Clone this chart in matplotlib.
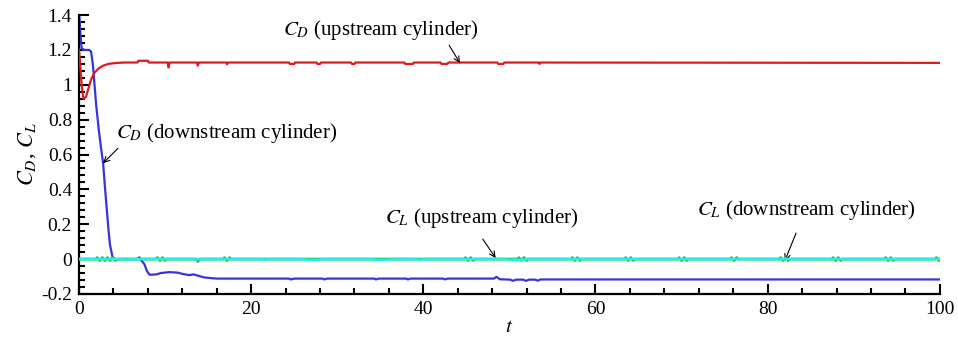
import matplotlib.pyplot as plt
from matplotlib.ticker import MultipleLocator, FuncFormatter

plt.rcParams['font.family'] = ['Liberation Serif', 'DejaVu Serif']
plt.rcParams['mathtext.fontset'] = 'stix'
plt.rcParams['axes.unicode_minus'] = False

# Drag coefficient, upstream cylinder (t, C_D)
cd_up = [(0, 1.20), (0.3, 1.00), (0.5, 0.92), (0.8, 0.93), (1.1, 0.98), (1.4, 1.03),
         (1.8, 1.07), (2.3, 1.095), (2.8, 1.11), (3.4, 1.12), (4.2, 1.125), (5.2, 1.128),
         (6.8, 1.128), (6.9, 1.138), (8.0, 1.138), (8.1, 1.128),
         (10.3, 1.128), (10.4, 1.10), (10.5, 1.128), (13.7, 1.128), (13.8, 1.11), (13.9, 1.128),
         (17.1, 1.128), (17.2, 1.118), (17.3, 1.128), (24.4, 1.128), (24.5, 1.12), (25.0, 1.12),
         (25.1, 1.128), (27.6, 1.128), (27.7, 1.12), (28.0, 1.12), (28.1, 1.128),
         (31.6, 1.128), (31.7, 1.12), (32.0, 1.12), (32.1, 1.128),
         (37.8, 1.128), (37.9, 1.12), (38.8, 1.12), (38.9, 1.128), (42.0, 1.128), (42.1, 1.12),
         (42.8, 1.12), (42.9, 1.128), (48.6, 1.128), (48.7, 1.12), (49.3, 1.12), (49.4, 1.128),
         (53.4, 1.128), (53.5, 1.12), (53.6, 1.128), (100, 1.126)]

# Drag coefficient, downstream cylinder
cd_down = [(0, 1.42), (0.15, 1.30), (0.3, 1.21), (0.6, 1.20), (1.2, 1.20), (1.4, 1.19),
           (1.6, 1.12), (1.8, 1.00), (2.0, 0.88), (2.3, 0.74), (2.6, 0.62), (2.8, 0.55),
           (3.0, 0.42), (3.2, 0.30), (3.4, 0.18), (3.6, 0.08), (3.9, 0.01), (4.2, 0.0),
           (6.8, 0.0), (7.0, 0.01), (7.2, -0.005), (7.6, -0.03), (7.9, -0.07), (8.2, -0.09),
           (9.0, -0.088), (9.5, -0.08), (10.5, -0.075), (11.5, -0.078), (12.0, -0.085),
           (12.8, -0.092), (13.3, -0.088), (13.8, -0.095), (14.5, -0.105), (15.5, -0.11),
           (16.0, -0.112), (24.4, -0.112), (24.6, -0.117), (25.0, -0.112), (28.3, -0.112),
           (28.5, -0.117), (28.8, -0.112), (34.3, -0.112), (34.5, -0.117), (34.8, -0.112),
           (38.0, -0.112), (38.2, -0.117), (38.5, -0.112), (42.3, -0.112), (42.5, -0.117),
           (42.8, -0.112), (48.2, -0.112), (48.5, -0.102), (48.9, -0.116), (50.1, -0.118),
           (50.4, -0.125), (50.8, -0.118), (51.6, -0.118), (51.9, -0.125), (52.3, -0.118),
           (53.0, -0.118), (53.3, -0.124), (53.6, -0.117), (100, -0.117)]

# Lift coefficient, upstream cylinder
cl_up = [(0, 0.0), (5.2, 0.0), (5.5, -0.004), (6.0, 0.0), (13.4, 0.0), (13.6, -0.004),
         (14.0, 0.0), (21.3, 0.0), (21.6, -0.004), (21.9, 0.0), (26.0, 0.0), (26.5, -0.004),
         (27.8, -0.004), (28.2, 0.0), (34.0, 0.0), (34.5, -0.004), (35.8, -0.004), (36.2, 0.0),
         (39.0, 0.0), (39.5, -0.004), (40.2, 0.0), (49.5, 0.0), (50.0, -0.004), (51.5, -0.004),
         (52.0, 0.0), (100, 0.0)]

# Lift coefficient, downstream cylinder (short bursts around zero)
cl_down = [(0, 0.0), (2.0, 0.0), (2.1, 0.008), (2.4, -0.008), (2.7, 0.008), (3.0, -0.008),
           (3.3, 0.008), (3.6, -0.008), (3.9, 0.008), (4.2, -0.008), (4.5, 0.0),
           (9.0, 0.0), (9.1, 0.008), (9.4, -0.008), (9.7, 0.008), (10.0, -0.008), (10.1, 0.0),
           (13.6, 0.0), (13.8, -0.014), (14.0, 0.0),
           (16.8, 0.0), (16.9, 0.008), (17.2, -0.008), (17.5, 0.008), (17.6, 0.0),
           (44.8, 0.0), (44.9, 0.008), (45.2, -0.008), (45.5, 0.008), (45.8, -0.008), (45.9, 0.0),
           (51.0, 0.0), (51.1, 0.008), (51.4, -0.008), (51.7, 0.008), (52.0, -0.008), (52.1, 0.0),
           (57.2, 0.0), (57.3, 0.008), (57.6, -0.008), (57.9, 0.008), (58.2, -0.008), (58.3, 0.0),
           (63.4, 0.0), (63.5, 0.008), (63.8, -0.008), (64.1, 0.008), (64.4, -0.008), (64.5, 0.0),
           (69.6, 0.0), (69.7, 0.008), (70.0, -0.008), (70.3, 0.008), (70.6, -0.008), (70.7, 0.0),
           (75.7, 0.0), (75.8, 0.008), (76.1, -0.008), (76.4, 0.008), (76.5, 0.0),
           (81.4, 0.0), (81.5, 0.008), (81.8, -0.008), (82.1, 0.008), (82.4, -0.008), (82.5, 0.0),
           (87.5, 0.0), (87.6, 0.008), (87.9, -0.008), (88.2, 0.008), (88.5, -0.008), (88.6, 0.0),
           (93.6, 0.0), (93.7, 0.008), (94.0, -0.008), (94.3, 0.008), (94.6, -0.008), (94.7, 0.0),
           (99.5, 0.0), (99.6, 0.008), (99.9, -0.008), (100, 0.0)]

fig = plt.figure(figsize=(9.58, 3.52), dpi=100)
ax = fig.add_axes([0.0825, 0.165, 0.8985, 0.792])

ax.plot(*zip(*cd_up), color='#e01820', lw=1.6, zorder=3)
ax.plot(*zip(*cd_down), color='#3535dc', lw=1.6, zorder=2)
ax.plot(*zip(*cl_down), color='#22c022', lw=2.0, zorder=4)
ax.plot(*zip(*cl_up), color='#22ecf4', lw=1.8, zorder=5)

ax.set_xlim(0, 100)
ax.set_ylim(-0.2, 1.4)
ax.xaxis.set_major_locator(MultipleLocator(20))
ax.xaxis.set_minor_locator(MultipleLocator(4))
ax.yaxis.set_major_locator(MultipleLocator(0.2))
ax.yaxis.set_minor_locator(MultipleLocator(0.04))
fmt = FuncFormatter(lambda v, pos: f'{v:g}' if abs(v) > 1e-9 else '0')
ax.yaxis.set_major_formatter(fmt)

for side in ('top', 'right'):
    ax.spines[side].set_visible(False)
for side in ('left', 'bottom'):
    ax.spines[side].set_linewidth(1.6)
ax.tick_params(which='both', direction='in', width=1.5, labelsize=14, pad=5)
ax.tick_params(which='major', length=7)
ax.tick_params(which='minor', length=4)

ax.set_xlabel('$t$', fontsize=15, labelpad=0)
ax.set_ylabel('$C_D$, $C_L$', fontsize=16, labelpad=2)

# Labels with pointer arrows to each curve
arrow = dict(arrowstyle='->', color='black', lw=0.8, shrinkA=0, shrinkB=0)

ax.annotate('', xy=(44.25, 1.125), xytext=(43.0, 1.227), arrowprops=arrow)
ax.text(23.7, 1.313, '$C_D$ (upstream cylinder)', fontsize=15, ha='left', va='center')

ax.annotate('', xy=(2.79, 0.55), xytext=(4.53, 0.636), arrowprops=arrow)
ax.text(4.3, 0.722, '$C_D$ (downstream cylinder)', fontsize=15, ha='left', va='center')

ax.annotate('', xy=(48.4, 0.006), xytext=(46.9, 0.115), arrowprops=arrow)
ax.text(35.5, 0.235, '$C_L$ (upstream cylinder)', fontsize=15, ha='left', va='center')

ax.annotate('', xy=(82.0, -0.01), xytext=(83.3, 0.149), arrowprops=arrow)
ax.text(71.8, 0.28, '$C_L$ (downstream cylinder)', fontsize=15, ha='left', va='center')

fig.savefig('out.png', dpi=100)
